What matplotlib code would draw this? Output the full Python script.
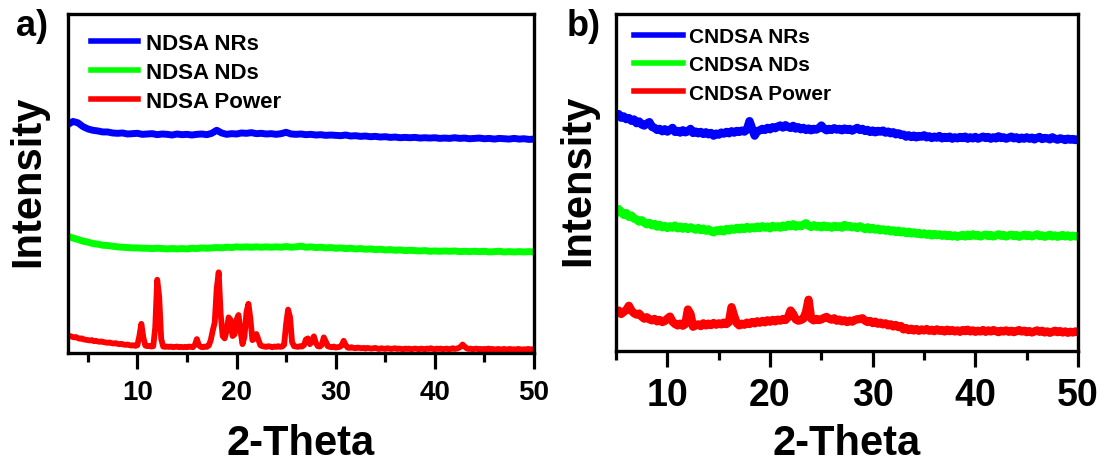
import numpy as np
import matplotlib
matplotlib.use("Agg")
import matplotlib.pyplot as plt
from matplotlib.ticker import MultipleLocator

plt.rcParams['font.family'] = ['Liberation Sans', 'DejaVu Sans']
plt.rcParams['font.weight'] = 'bold'

# ---------------- panel a: NDSA (offset intensity, a.u.) ----------------
two_theta_a = np.arange(3.0, 50.001, 0.5)       # NRs / NDs scans
two_theta_a_fine = np.arange(3.0, 50.001, 0.2)  # powder scan

ndsa_nrs = [
    67.4, 68.3, 67.9, 66.8, 66.1, 65.7, 65.5, 65.2, 65.2, 64.9,
    64.8, 64.9, 64.6, 64.7, 64.8, 64.5, 64.6, 64.7, 64.4, 64.6,
    64.5, 64.3, 64.6, 64.4, 64.5, 64.3, 64.5, 64.6, 64.4, 64.8,
    65.7, 64.9, 64.5, 64.7, 64.6, 64.9, 64.8, 65.0, 64.7, 64.8,
    64.6, 64.7, 64.5, 64.7, 65.1, 64.6, 64.5, 64.6, 64.4, 64.5,
    64.3, 64.4, 64.2, 64.3, 64.2, 64.1, 64.3, 64.0, 64.1, 63.9,
    64.0, 63.8, 63.9, 63.7, 63.8, 63.6, 63.7, 63.5, 63.6, 63.5,
    63.6, 63.4, 63.5, 63.4, 63.5, 63.3, 63.4, 63.3, 63.5, 63.3,
    63.4, 63.2, 63.3, 63.4, 63.2, 63.3, 63.1, 63.3, 63.2, 63.1,
    63.3, 63.1, 63.2, 63.0, 63.1,
]

ndsa_nds = [
    34.4, 33.9, 33.5, 33.0, 32.7, 32.3, 32.1, 31.8, 31.7, 31.5,
    31.3, 31.2, 31.1, 31.0, 31.0, 30.9, 30.9, 30.8, 30.9, 30.8,
    30.7, 30.8, 30.7, 30.8, 30.7, 30.9, 30.8, 31.0, 30.9, 31.0,
    31.1, 31.0, 31.2, 31.1, 31.3, 31.2, 31.3, 31.2, 31.3, 31.2,
    31.3, 31.2, 31.3, 31.2, 31.4, 31.2, 31.3, 31.5, 31.2, 31.3,
    31.1, 31.2, 31.0, 31.1, 30.9, 31.0, 30.8, 30.9, 30.7, 30.8,
    30.6, 30.7, 30.5, 30.6, 30.4, 30.5, 30.3, 30.4, 30.2, 30.3,
    30.2, 30.1, 30.2, 30.0, 30.1, 30.0, 30.1, 30.0, 30.1, 29.9,
    30.0, 29.9, 30.0, 29.9, 30.0, 29.8, 29.9, 30.0, 29.8, 29.9,
    29.8, 29.9, 29.8, 29.9, 29.8,
]

ndsa_power = [
    5.2, 5.0, 4.8, 4.6, 4.7, 4.4, 4.2, 4.3, 4.0, 3.9,
    3.8, 3.7, 3.8, 3.5, 3.6, 3.4, 3.3, 3.4, 3.2, 3.1,
    3.0, 3.1, 2.9, 2.8, 2.9, 2.7, 2.6, 2.7, 2.5, 2.4,
    2.5, 2.3, 2.2, 2.3, 2.1, 2.3, 5.0, 8.6, 4.6, 2.2,
    2.0, 2.1, 1.9, 2.0, 7.5, 21.6, 16.5, 4.2, 1.9, 1.8,
    1.9, 1.8, 1.9, 1.7, 1.8, 1.9, 1.7, 1.8, 1.7, 1.8,
    1.7, 1.9, 1.8, 1.7, 2.4, 4.1, 2.3, 1.8, 1.7, 1.9,
    1.8, 2.2, 3.8, 6.6, 9.0, 19.0, 23.8, 11.5, 5.0, 4.3,
    6.5, 10.5, 9.8, 5.0, 5.5, 9.8, 11.2, 6.5, 2.6, 4.8,
    12.0, 14.5, 10.0, 3.8, 4.2, 5.6, 4.0, 2.3, 2.0, 1.9,
    1.8, 2.0, 1.9, 1.7, 1.9, 1.8, 2.0, 1.8, 1.9, 2.4,
    8.5, 12.8, 10.5, 3.2, 2.0, 1.9, 1.8, 2.0, 1.9, 2.3,
    4.0, 4.3, 2.6, 3.4, 4.9, 3.0, 2.0, 1.9, 2.4, 4.6,
    3.4, 2.0, 1.8, 1.7, 1.9, 1.6, 1.7, 1.8, 2.2, 3.6,
    2.4, 1.6, 1.5, 1.7, 1.5, 1.4, 1.6, 1.5, 1.4, 1.5,
    1.3, 1.5, 1.4, 1.3, 1.4, 1.5, 1.3, 1.2, 1.4, 1.3,
    1.2, 1.4, 1.3, 1.2, 1.3, 1.4, 1.2, 1.3, 1.2, 1.1,
    1.3, 1.2, 1.3, 1.1, 1.2, 1.3, 1.2, 1.1, 1.3, 1.2,
    1.1, 1.3, 1.2, 1.4, 1.2, 1.1, 1.3, 1.2, 1.3, 1.1,
    1.2, 1.3, 1.1, 1.2, 1.4, 1.2, 1.3, 1.5, 1.8, 2.5,
    1.9, 1.4, 1.2, 1.3, 1.1, 1.2, 1.3, 1.1, 1.2, 1.0,
    1.2, 1.1, 1.3, 1.1, 1.2, 1.0, 1.1, 1.2, 1.0, 1.1,
    1.2, 1.0, 1.1, 1.2, 1.0, 1.1, 1.0, 1.2, 1.1, 1.0,
    1.1, 1.0, 1.2, 1.0, 1.1, 1.0,
]

# ---------------- panel b: CNDSA (offset intensity, a.u.) ----------------
two_theta_b = np.arange(5.0, 50.001, 0.25)

cndsa_nrs = [
    69.8, 70.3, 69.2, 69.6, 68.8, 69.1, 68.3, 68.7,
    67.6, 68.1, 67.2, 66.9, 67.5, 67.9, 66.5, 66.2,
    65.6, 65.9, 65.2, 65.8, 65.1, 65.6, 66.2, 65.0,
    65.3, 64.8, 65.5, 64.9, 65.2, 65.9, 64.7, 65.1,
    64.6, 65.0, 64.4, 64.9, 64.3, 64.7, 63.9, 64.5,
    64.2, 64.8, 64.5, 65.0, 64.6, 65.2, 64.8, 65.3,
    65.0, 65.4, 65.1, 65.7, 68.2, 66.0, 63.9, 65.2,
    65.5, 65.9, 65.6, 66.2, 65.8, 66.4, 66.1, 66.6,
    66.9, 66.3, 67.0, 66.5, 66.2, 66.8, 66.0, 66.4,
    65.8, 66.2, 65.6, 66.0, 65.5, 65.9, 65.7, 66.1,
    66.9, 66.0, 65.5, 65.9, 65.6, 66.1, 65.7, 65.9,
    65.5, 66.0, 65.6, 65.9, 65.4, 65.8, 66.2, 65.6,
    65.9, 65.3, 65.6, 65.0, 65.4, 64.9, 65.3, 65.1,
    65.4, 64.8, 65.1, 64.6, 64.9, 64.3, 64.6, 64.1,
    64.2, 63.6, 64.0, 63.5, 63.9, 63.4, 63.8, 63.6,
    64.0, 63.4, 63.7, 63.2, 63.6, 63.3, 63.8, 63.1,
    63.5, 63.2, 63.6, 63.0, 63.4, 63.1, 63.5, 63.2,
    63.6, 63.0, 63.4, 63.1, 63.5, 63.0, 63.3, 63.6,
    63.2, 63.5, 63.0, 63.4, 63.1, 63.7, 63.2, 63.4,
    63.0, 63.3, 63.6, 63.1, 63.4, 62.9, 63.3, 63.0,
    63.4, 63.0, 63.3, 62.8, 63.2, 63.5, 62.9, 63.2,
    63.1, 62.8, 63.4, 63.0, 62.7, 63.1, 62.9, 62.6,
    63.0, 62.7, 62.9, 62.6, 62.8,
]

cndsa_nds = [
    41.0, 42.1, 41.3, 40.4, 40.9, 39.8, 40.2, 39.3,
    39.0, 38.4, 38.8, 38.1, 37.6, 38.0, 37.3, 37.7,
    36.9, 37.4, 36.7, 37.1, 36.5, 37.0, 36.6, 37.2,
    36.4, 36.9, 36.3, 36.8, 36.2, 36.7, 36.4, 36.0,
    36.5, 35.9, 36.3, 35.7, 36.1, 35.5, 35.2, 35.8,
    35.6, 36.0, 35.5, 36.2, 35.8, 36.3, 36.0, 36.5,
    36.1, 36.6, 36.2, 36.8, 36.3, 36.7, 36.4, 36.9,
    36.5, 37.0, 36.6, 36.9, 36.4, 37.1, 36.7, 37.0,
    36.6, 37.2, 36.8, 37.4, 37.0, 37.6, 36.9, 37.3,
    37.0, 37.5, 37.9, 37.2, 36.8, 37.3, 36.9, 37.1,
    36.7, 37.2, 36.8, 37.0, 36.6, 37.1, 36.8, 37.0,
    36.6, 37.4, 36.9, 37.1, 36.7, 36.9, 36.5, 37.0,
    36.6, 36.2, 36.7, 36.1, 36.5, 36.0, 36.3, 35.8,
    36.1, 35.7, 36.0, 35.5, 35.8, 35.3, 35.7, 35.2,
    35.5, 35.0, 35.4, 34.9, 35.2, 34.8, 35.0, 34.6,
    34.9, 34.5, 34.8, 34.3, 34.7, 34.4, 34.6, 34.2,
    34.5, 34.1, 34.4, 34.0, 34.3, 33.9, 34.2, 34.4,
    34.0, 34.5, 34.1, 34.6, 34.2, 34.4, 34.0, 34.3,
    34.5, 34.1, 34.4, 34.0, 34.3, 34.6, 34.2, 34.4,
    34.0, 34.3, 34.5, 34.1, 34.4, 33.9, 34.2, 34.5,
    34.1, 34.4, 34.0, 34.3, 34.6, 34.1, 34.3, 33.9,
    34.2, 34.5, 34.0, 34.3, 33.9, 34.2, 34.4, 34.0,
    34.3, 33.9, 34.2, 34.0, 34.1,
]

cndsa_power = [
    11.3, 12.0, 11.0, 11.6, 12.2, 13.4, 12.0, 11.2,
    10.8, 11.1, 10.2, 9.6, 10.0, 9.4, 9.1, 9.5,
    8.8, 9.2, 8.6, 8.9, 9.6, 10.2, 8.7, 8.0,
    7.6, 8.1, 7.5, 8.0, 12.3, 11.0, 7.2, 7.6,
    7.9, 7.4, 8.2, 7.6, 8.1, 7.7, 8.3, 7.8,
    8.2, 7.9, 8.4, 8.0, 8.6, 13.0, 10.4, 8.3,
    7.6, 8.1, 7.8, 8.4, 8.0, 8.6, 8.2, 8.8,
    8.4, 8.9, 8.5, 9.1, 8.7, 9.2, 8.8, 9.3,
    9.0, 9.5, 9.2, 10.0, 12.0, 11.0, 9.4, 9.0,
    9.2, 9.6, 11.5, 15.2, 9.6, 9.1, 9.5, 9.2,
    9.4, 9.8, 10.1, 9.6, 9.3, 9.7, 9.0, 9.3,
    8.8, 9.1, 8.6, 9.0, 8.7, 9.2, 9.4, 9.5,
    9.7, 9.0, 8.6, 8.9, 8.3, 8.7, 8.1, 8.4,
    7.9, 8.2, 7.6, 7.9, 7.3, 7.7, 7.1, 7.4,
    6.4, 6.8, 6.2, 6.6, 6.1, 6.5, 6.0, 6.4,
    6.1, 6.5, 6.0, 6.3, 5.9, 6.4, 6.0, 6.2,
    5.8, 6.3, 5.9, 6.2, 5.8, 6.1, 5.7, 6.2,
    5.9, 6.3, 5.8, 6.1, 5.7, 6.0, 5.8, 6.2,
    5.7, 6.1, 5.8, 6.2, 5.9, 5.6, 6.0, 5.8,
    6.1, 5.7, 6.0, 5.6, 5.9, 6.2, 5.8, 6.0,
    5.6, 5.9, 5.5, 5.8, 6.1, 5.7, 6.0, 5.5,
    5.8, 5.4, 5.7, 6.0, 5.6, 5.9, 5.5, 5.8,
    5.4, 5.7, 5.5, 5.8, 5.6,
]

labels_a = ['NDSA NRs', 'NDSA NDs', 'NDSA Power']
labels_b = ['CNDSA NRs', 'CNDSA NDs', 'CNDSA Power']
colors = ['#0000ff', '#00ff00', '#ff0000']
tick_values = [10, 20, 30, 40, 50]


def style_axes(ax, xmin, tick_size):
    ax.set_xlim(xmin, 50)
    ax.set_ylim(0, 100)
    ax.set_yticks([])
    ax.set_xticks(tick_values)
    ax.xaxis.set_minor_locator(MultipleLocator(5))
    for spine in ax.spines.values():
        spine.set_linewidth(2.4)
    ax.tick_params(axis='x', which='major', direction='out', length=11.5,
                   width=2.3, pad=7, labelsize=tick_size)
    ax.tick_params(axis='x', which='minor', direction='out', length=6.5,
                   width=2.3)
    for lab in ax.get_xticklabels():
        lab.set_fontweight('bold')


fig = plt.figure(figsize=(11.09, 4.64), dpi=100)
ax_a = fig.add_axes([0.0613, 0.2371, 0.4202, 0.7306])
ax_b = fig.add_axes([0.5555, 0.2414, 0.4166, 0.7263])

# panel a
ax_a.plot(two_theta_a, ndsa_nrs, color=colors[0], lw=5.0, label=labels_a[0])
ax_a.plot(two_theta_a, ndsa_nds, color=colors[1], lw=5.0, label=labels_a[1])
ax_a.plot(two_theta_a_fine, ndsa_power, color=colors[2], lw=4.2,
          label=labels_a[2])
style_axes(ax_a, 3, 20)
leg_a = ax_a.legend(loc='upper left', bbox_to_anchor=(0.05, 0.945),
                    frameon=False, prop={'size': 16, 'weight': 'bold'},
                    handlelength=2.1, handletextpad=0.35, labelspacing=0.36,
                    borderpad=0, borderaxespad=0)
for h in leg_a.get_lines():
    h.set_linewidth(4.0)
ax_a.set_xlabel('2-Theta', fontsize=30, fontweight='bold', va='baseline')
ax_a.xaxis.set_label_coords(0.5, -0.298)
ax_a.set_ylabel('Intensity', fontsize=30, fontweight='bold', va='center')
ax_a.yaxis.set_label_coords(-0.085, 0.51)

# panel b
ax_b.plot(two_theta_b, cndsa_nrs, color=colors[0], lw=6.0, label=labels_b[0])
ax_b.plot(two_theta_b, cndsa_nds, color=colors[1], lw=6.0, label=labels_b[1])
ax_b.plot(two_theta_b, cndsa_power, color=colors[2], lw=6.0,
          label=labels_b[2])
style_axes(ax_b, 5, 27)
leg_b = ax_b.legend(loc='upper left', bbox_to_anchor=(0.039, 0.962),
                    frameon=False, prop={'size': 15, 'weight': 'bold'},
                    handlelength=2.35, handletextpad=0.3, labelspacing=0.45,
                    borderpad=0, borderaxespad=0)
for h in leg_b.get_lines():
    h.set_linewidth(4.0)
ax_b.set_xlabel('2-Theta', fontsize=30, fontweight='bold', va='baseline')
ax_b.xaxis.set_label_coords(0.5, -0.3056)
ax_b.set_ylabel('Intensity', fontsize=30, fontweight='bold', va='center')
ax_b.yaxis.set_label_coords(-0.082, 0.51)

fig.text(0.0144, 0.942, 'a)', fontsize=26, fontweight='bold', va='center')
fig.text(0.511, 0.942, 'b)', fontsize=26, fontweight='bold', va='center')

fig.savefig('out.png', dpi=100)
